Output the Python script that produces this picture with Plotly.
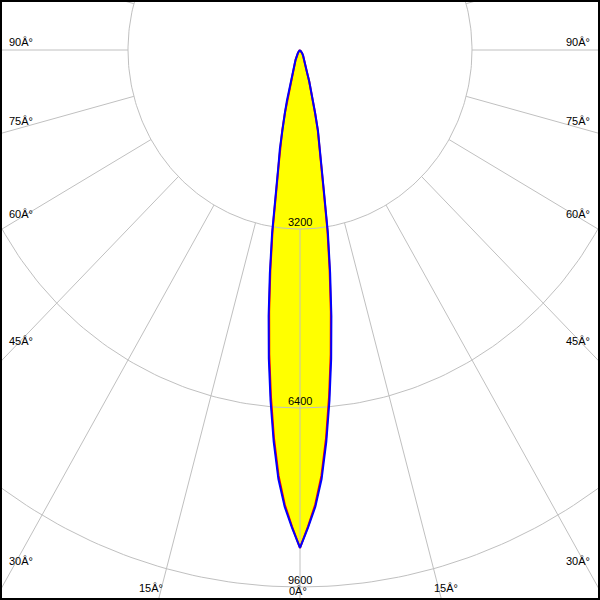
import numpy as np
import plotly.graph_objects as go

# ---- data ----
gamma_deg = [0, 1, 2, 3, 4, 5, 6, 7, 8, 9, 10, 11, 12, 13, 14, 15, 16, 17, 18,
             20, 22, 25, 30, 35, 40, 50, 60, 70, 80, 90]
# C90-C270 plane (blue), cd
cd_c90 = [8900, 8540, 8170, 7680, 7020, 6290, 5550, 4790, 4030, 3320, 2560,
          2100, 1800, 1490, 1170, 940, 760, 590, 430, 330, 260, 195, 115, 70,
          40, 15, 5, 0, 0, 0]
# C0-C180 plane (red), cd
cd_c0 = [8900, 8520, 8130, 7620, 6950, 6210, 5470, 4710, 3960, 3260, 2520,
         2070, 1770, 1470, 1150, 925, 745, 580, 420, 320, 255, 190, 112, 68,
         38, 14, 5, 0, 0, 0]

ring_values = [3200, 6400, 9600, 12800]
ring_labels = ["3200", "6400", "9600"]
spoke_angles = list(range(0, 360, 15))
angle_labels_left = ["90Â°", "75Â°", "60Â°", "45Â°", "30Â°"]
angle_labels_right = ["90Â°", "75Â°", "60Â°", "45Â°", "30Â°"]
bottom_labels = ["15Â°", "0Â°", "15Â°"]

GRID = "#c0c0c0"
FONT = dict(family="Liberation Sans, Arial, sans-serif", size=11, color="black")


def plane_xy(values):
    g = np.array(gamma_deg, dtype=float)
    v = np.array(values, dtype=float)
    th = np.concatenate([-g[::-1], g[1:]])
    r = np.concatenate([v[::-1], v[1:]])
    t = np.radians(th)
    return r * np.sin(t), -r * np.cos(t)


fig = go.Figure()

# yellow fill
bx, by = plane_xy(cd_c90)
fig.add_trace(go.Scatter(x=bx, y=by, mode="lines", fill="toself",
                         fillcolor="#ffff00", line=dict(width=0),
                         hoverinfo="skip", showlegend=False))

# rings
phi = np.radians(np.arange(0, 360.5, 1.0))
for rv in ring_values:
    fig.add_trace(go.Scatter(x=rv * np.sin(phi), y=-rv * np.cos(phi), mode="lines",
                             line=dict(color=GRID, width=1), hoverinfo="skip",
                             showlegend=False))

# spokes from first ring outward
for a in spoke_angles:
    t = np.radians(a)
    r0, r1 = ring_values[0], 20000
    fig.add_trace(go.Scatter(x=[r0 * np.sin(t), r1 * np.sin(t)],
                             y=[-r0 * np.cos(t), -r1 * np.cos(t)], mode="lines",
                             line=dict(color=GRID, width=1), hoverinfo="skip",
                             showlegend=False))

# curves
rx, ry = plane_xy(cd_c0)
fig.add_trace(go.Scatter(x=rx, y=ry, mode="lines", line=dict(color="#ff0000", width=2),
                         hoverinfo="skip", showlegend=False))
fig.add_trace(go.Scatter(x=bx, y=by, mode="lines", line=dict(color="#0000ff", width=2),
                         hoverinfo="skip", showlegend=False))

# pixel geometry: centre at (300,50), x 172 px / 3200 cd, y 179 px / 3200 cd
sx = 172 / 3200
sy = 179 / 3200
xr = [-300 / sx, 300 / sx]
yr = [-550 / sy, 50 / sy]

annotations = []
for rv, lab in zip(ring_values, ring_labels):
    annotations.append(dict(x=0, y=-rv, xref="x", yref="y", text=lab, showarrow=False,
                            xanchor="center", yanchor="bottom", yshift=-1, font=FONT))

left_y = [42, 121, 214, 341, 561]
for lab, py in zip(angle_labels_left, left_y):
    annotations.append(dict(x=7 / 600, y=1 - py / 600, xref="paper", yref="paper",
                            text=lab, showarrow=False, xanchor="left",
                            yanchor="middle", font=FONT))
for lab, py in zip(angle_labels_right, left_y):
    annotations.append(dict(x=592 / 600, y=1 - py / 600, xref="paper", yref="paper",
                            text=lab, showarrow=False, xanchor="right",
                            yanchor="middle", font=FONT))
for lab, px, py in zip(bottom_labels, [151, 298, 446], [588, 591, 588]):
    annotations.append(dict(x=px / 600, y=1 - py / 600, xref="paper", yref="paper",
                            text=lab, showarrow=False, xanchor="center",
                            yanchor="middle", font=FONT))

fig.update_layout(
    width=600, height=600,
    margin=dict(l=0, r=0, t=0, b=0),
    paper_bgcolor="white", plot_bgcolor="white",
    xaxis=dict(range=xr, visible=False, showgrid=False, zeroline=False, fixedrange=True),
    yaxis=dict(range=yr, visible=False, showgrid=False, zeroline=False, fixedrange=True),
    annotations=annotations,
    shapes=[dict(type="rect", xref="paper", yref="paper", x0=0, y0=0, x1=1, y1=1,
                 line=dict(color="black", width=4), layer="above")],
)

fig.write_html("out.html", config={"staticPlot": True},
               post_script="document.body.style.margin='0';document.body.style.overflow='hidden';")
